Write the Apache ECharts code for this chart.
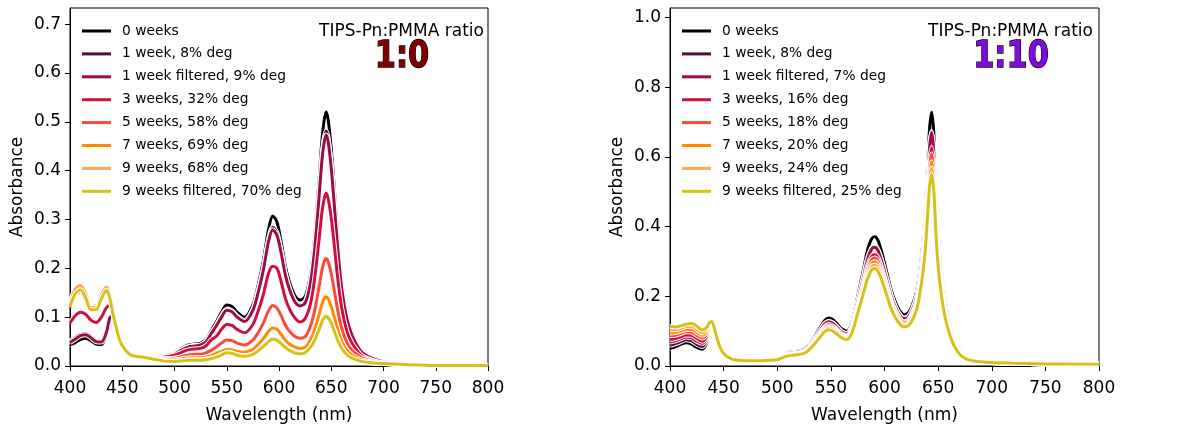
<!DOCTYPE html>
<html><head><meta charset="utf-8">
<script src="https://cdn.jsdelivr.net/npm/echarts@6/dist/echarts.min.js"></script>
<style>html,body{margin:0;padding:0;background:#fff}#c{width:1185px;height:430px}</style>
</head><body><div id="c"></div>
<script>
// ---------- data ----------
const namesL = ['0 weeks','1 week, 8% deg','1 week filtered, 9% deg','3 weeks, 32% deg','5 weeks, 58% deg','7 weeks, 69% deg','9 weeks, 68% deg','9 weeks filtered, 70% deg'];
const namesR = ['0 weeks','1 week, 8% deg','1 week filtered, 7% deg','3 weeks, 16% deg','5 weeks, 18% deg','7 weeks, 20% deg','9 weeks, 24% deg','9 weeks filtered, 25% deg'];
const colors = ['#000000','#520b3d','#9a0c4a','#cf0f3f','#fd4a38','#ff8a00','#fca855','#d5c118'];

const xTicks = [400,450,500,550,600,650,700,750,800];
const yTicksL = [0,0.1,0.2,0.3,0.4,0.5,0.6,0.7];
const yTicksR = [0,0.2,0.4,0.6,0.8,1.0];

const wavelengthsL = [400,405,410,415,420,425,430,435,438,441,444,447,450,455,460,
 470,480,490,500,505,510,515,520,525,530,
 535,540,545,550,555,560,567,575,580,585,
 590,594,598,602,606,610,615,620,625,630,
 634,638,641,643,645,647,650,653,656,660,
 665,670,675,680,690,700,720,750,800];

const L0 = [.043,.048,.054,.057,.052,.045,.044,.065,.095,.105,.082,.057,.042,.028,.022,
 .019,.018,.02,.026,.033,.04,.044,.045,.047,.054,
 .072,.09,.11,.125,.122,.11,.1,.125,.165,.215,
 .28,.307,.295,.255,.205,.172,.145,.135,.142,.185,
 .26,.37,.46,.5,.52,.505,.445,.36,.27,.175,
 .105,.068,.045,.03,.016,.009,.004,.002,.001];
const L1 = [.05,.058,.064,.066,.06,.051,.05,.072,.1,.107,.083,.057,.042,.028,.022,
 .018,.017,.019,.024,.031,.037,.041,.042,.043,.05,
 .067,.083,.102,.116,.113,.102,.093,.116,.153,.199,
 .259,.284,.273,.236,.19,.159,.134,.125,.131,.171,
 .241,.342,.426,.463,.481,.467,.412,.333,.25,.162,
 .097,.063,.042,.028,.015,.008,.004,.002,.001];
const L2 = [.048,.055,.062,.064,.058,.05,.049,.07,.098,.105,.082,.057,.042,.028,.022,
 .017,.016,.018,.024,.03,.036,.04,.041,.043,.049,
 .066,.082,.1,.114,.111,.1,.091,.114,.15,.196,
 .255,.279,.268,.232,.187,.157,.132,.123,.129,.168,
 .237,.337,.419,.455,.473,.46,.405,.328,.246,.159,
 .096,.062,.041,.027,.015,.008,.004,.002,.001];
const L3 = [.088,.103,.11,.106,.094,.089,.1,.12,.124,.108,.083,.057,.042,.028,.022,
 .017,.016,.018,.022,.026,.031,.034,.035,.036,.041,
 .053,.061,.075,.085,.083,.075,.068,.085,.112,.146,
 .19,.204,.2,.173,.139,.117,.099,.09,.097,.126,
 .177,.252,.313,.34,.354,.343,.303,.245,.184,.119,
 .071,.046,.031,.02,.011,.006,.003,.001,.001];
const L4 = [.12,.145,.152,.135,.115,.117,.135,.152,.14,.108,.082,.057,.042,.028,.022,
 .019,.017,.015,.016,.018,.021,.023,.024,.024,.027,
 .032,.039,.047,.053,.052,.047,.043,.053,.068,.088,
 .113,.124,.119,.103,.084,.071,.061,.057,.06,.081,
 .112,.158,.195,.212,.22,.214,.189,.153,.116,.077,
 .048,.032,.023,.016,.01,.006,.003,.001,.001];
const L5 = [.128,.155,.162,.145,.122,.123,.143,.16,.143,.109,.082,.057,.042,.028,.022,
 .019,.016,.013,.013,.014,.016,.017,.017,.017,.018,
 .021,.026,.03,.034,.033,.03,.028,.034,.044,.056,
 .071,.078,.075,.065,.053,.045,.039,.036,.038,.053,
 .073,.102,.126,.137,.142,.138,.122,.099,.076,.05,
 .032,.022,.016,.012,.008,.006,.003,.001,.001];
const L6 = [.13,.157,.165,.148,.12,.12,.146,.162,.145,.11,.082,.057,.042,.028,.022,
 .019,.015,.011,.01,.011,.012,.013,.013,.013,.014,
 .016,.019,.024,.028,.027,.023,.021,.025,.032,.041,
 .052,.057,.055,.048,.039,.033,.028,.026,.028,.039,
 .054,.075,.093,.1,.104,.101,.09,.073,.056,.037,
 .023,.016,.012,.009,.006,.005,.003,.001,.001];
const L7 = [.122,.148,.156,.14,.115,.115,.138,.155,.14,.108,.081,.056,.042,.028,.021,
 .018,.014,.01,.009,.01,.011,.012,.012,.012,.013,
 .015,.018,.023,.027,.026,.022,.02,.024,.031,.04,
 .05,.055,.053,.046,.038,.032,.027,.025,.027,.038,
 .052,.073,.09,.098,.102,.099,.088,.071,.054,.036,
 .023,.016,.012,.009,.006,.005,.003,.001,.001];

const wavelengthsR = [400,405,410,415,420,425,430,434,437,439,441,444,447,450,455,
 460,470,480,490,500,505,510,515,520,525,
 530,535,540,544,548,552,556,560,565,570,
 575,580,584,588,591,594,598,602,606,610,
 614,618,622,626,630,633,636,638,640,642,
 644,646,648,650,653,656,660,664,668,673,
 680,690,700,720,750,800];

const R0 = [.05,.055,.062,.067,.063,.053,.048,.065,.105,.124,.11,.075,.05,.036,.024,
 .018,.015,.015,.017,.024,.032,.039,.041,.043,.048,
 .062,.085,.11,.13,.138,.133,.12,.107,.1,.13,
 .2,.27,.33,.365,.371,.36,.32,.27,.22,.185,
 .16,.148,.152,.175,.215,.275,.36,.44,.56,.68,
 .728,.665,.5,.38,.27,.195,.13,.085,.055,.034,
 .021,.014,.011,.009,.007,.005];
const R1 = [.059,.064,.07,.075,.072,.062,.056,.072,.108,.125,.11,.075,.05,.036,.024,
 .018,.015,.015,.017,.022,.030,.036,.038,.040,.044,
 .057,.079,.102,.120,.128,.123,.111,.099,.093,.120,
 .185,.250,.305,.338,.343,.333,.296,.250,.204,.171,
 .148,.137,.141,.162,.199,.254,.333,.407,.518,.629,
 .673,.615,.463,.352,.250,.180,.120,.079,.051,.031,
 .020,.013,.011,.009,.007,.005];
const R2 = [.069,.072,.078,.083,.081,.071,.065,.079,.111,.125,.111,.076,.05,.036,.024,
 .018,.015,.015,.017,.022,.029,.036,.038,.040,.044,
 .057,.078,.101,.120,.127,.122,.110,.098,.092,.120,
 .184,.248,.304,.336,.341,.331,.294,.248,.202,.170,
 .147,.136,.140,.161,.198,.253,.331,.405,.515,.626,
 .670,.612,.460,.350,.248,.179,.120,.078,.051,.031,
 .019,.013,.011,.009,.007,.005];
const R3 = [.076,.079,.084,.089,.088,.079,.071,.084,.113,.126,.111,.076,.05,.036,.024,
 .018,.015,.015,.016,.021,.028,.034,.035,.037,.041,
 .053,.073,.095,.112,.119,.114,.103,.092,.086,.112,
 .172,.232,.284,.314,.319,.310,.275,.232,.189,.159,
 .138,.127,.131,.151,.185,.237,.310,.378,.482,.585,
 .626,.572,.430,.327,.232,.168,.112,.073,.047,.029,
 .018,.012,.010,.008,.006,.005];
const R4 = [.087,.088,.093,.098,.097,.088,.08,.091,.117,.126,.111,.076,.051,.036,.024,
 .018,.015,.015,.016,.020,.027,.033,.034,.036,.040,
 .052,.071,.092,.109,.115,.111,.100,.089,.084,.109,
 .167,.226,.276,.305,.310,.301,.267,.226,.184,.155,
 .134,.124,.127,.146,.180,.230,.301,.367,.468,.568,
 .608,.555,.418,.317,.226,.163,.109,.071,.046,.028,
 .018,.012,.010,.008,.006,.005];
const R5 = [.095,.096,.1,.105,.105,.097,.088,.097,.119,.127,.112,.077,.051,.036,.024,
 .018,.015,.015,.016,.019,.026,.031,.033,.035,.039,
 .050,.068,.089,.105,.111,.107,.097,.086,.081,.105,
 .161,.217,.266,.294,.299,.290,.258,.217,.177,.149,
 .129,.119,.122,.141,.173,.221,.290,.354,.451,.547,
 .586,.535,.403,.306,.217,.157,.105,.068,.044,.027,
 .017,.012,.010,.008,.006,.005];
const R6 = [.104,.104,.108,.113,.114,.105,.095,.104,.122,.127,.112,.077,.051,.036,.024,
 .018,.015,.015,.016,.019,.025,.030,.032,.034,.037,
 .048,.066,.086,.101,.108,.104,.094,.084,.078,.101,
 .156,.211,.257,.285,.289,.281,.250,.211,.172,.144,
 .125,.115,.119,.137,.168,.215,.281,.343,.437,.530,
 .568,.519,.390,.296,.211,.152,.101,.066,.043,.027,
 .016,.012,.010,.008,.006,.005];
const R7 = [.113,.112,.115,.12,.122,.114,.103,.11,.125,.128,.112,.077,.051,.036,.024,
 .018,.015,.015,.016,.018,.024,.029,.031,.033,.036,
 .047,.064,.083,.098,.104,.100,.091,.081,.076,.098,
 .151,.204,.249,.276,.280,.272,.242,.204,.166,.140,
 .121,.112,.115,.132,.162,.208,.272,.332,.423,.513,
 .550,.502,.378,.287,.204,.147,.098,.064,.042,.026,
 .016,.012,.010,.008,.006,.005];

const seriesL = [L0,L1,L2,L3,L4,L5,L6,L7];
const seriesR = [R0,R1,R2,R3,R4,R5,R6,R7];

// ---------- chart ----------
const FONT = 'DejaVu Sans';
const chart = echarts.init(document.getElementById('c'), null, {renderer:'canvas'});

function buildSeries(W, list, names, gi, tag){
  const out = [];
  list.forEach((vals, i) => {
    const data = W.map((w, k) => [w, vals[k]]);
    const base = {type:'line', xAxisIndex:gi, yAxisIndex:gi, data, showSymbol:false, symbol:'none',
      smooth:0.3, animation:false, silent:true, clip:true};
    out.push(Object.assign({}, base, {name:'_w'+tag+i, lineStyle:{color:'#ffffff', width:5}, itemStyle:{color:'#ffffff'}}));
    out.push(Object.assign({}, base, {name:names[i], lineStyle:{color:colors[i], width:3}, itemStyle:{color:colors[i]}}));
  });
  return out;
}

function xAxisCfg(gi){
  return {type:'value', gridIndex:gi, min:400, max:800, interval:50,
    axisLine:{show:true, onZero:false, lineStyle:{color:'#000', width:1}},
    axisTick:{show:true, length:5, lineStyle:{color:'#000', width:1}, customValues:xTicks},
    axisLabel:{fontSize:17, color:'#000', fontFamily:FONT, margin:14, customValues:xTicks},
    splitLine:{show:false},
    name:'Wavelength (nm)', nameLocation:'middle', nameGap:41,
    nameTextStyle:{fontSize:17, color:'#000', fontFamily:FONT}};
}
function yAxisCfg(gi, max, ticks){
  return {type:'value', gridIndex:gi, min:0, max:max,
    axisLine:{show:true, onZero:false, lineStyle:{color:'#000', width:1}},
    axisTick:{show:true, length:5, lineStyle:{color:'#000', width:1}, customValues:ticks},
    axisLabel:{fontSize:17, color:'#000', fontFamily:FONT, margin:9, customValues:ticks,
      formatter:v => Number(v).toFixed(1)},
    splitLine:{show:false},
    name:'Absorbance', nameLocation:'middle', nameGap:44,
    nameTextStyle:{fontSize:17, color:'#000', fontFamily:FONT}};
}
function legendCfg(left, names){
  return {data:names, orient:'vertical', left:left, top:23, padding:0,
    icon:'rect', itemWidth:29, itemHeight:3, itemGap:6.9, selectedMode:false,
    textStyle:{fontSize:13.8, fontFamily:FONT, color:'#000', lineHeight:16, padding:[0,0,0,6]}};
}

const option = {
  backgroundColor:'#fff',
  animation:false,
  grid:[
    {left:70, top:8, width:418, height:358, show:true, borderColor:'#000', borderWidth:1, backgroundColor:'transparent'},
    {left:670, top:8, width:429, height:358, show:true, borderColor:'#000', borderWidth:1, backgroundColor:'transparent'}
  ],
  xAxis:[xAxisCfg(0), xAxisCfg(1)],
  yAxis:[yAxisCfg(0, 0.733, yTicksL), yAxisCfg(1, 1.027, yTicksR)],
  legend:[legendCfg(82, namesL), legendCfg(682, namesR)],
  series:[].concat(buildSeries(wavelengthsL, seriesL, namesL, 0, 'L'), buildSeries(wavelengthsR, seriesR, namesR, 1, 'R')),
  graphic:[
    {type:'text', x:401.5, y:32, z:100, style:{text:'TIPS-Pn:PMMA ratio', fill:'#000', font:'17px "DejaVu Sans"', textAlign:'center', textVerticalAlign:'middle'}},
    {type:'text', x:402, y:57, z:100, scaleX:0.8, style:{text:'1:0', fill:'#800000', stroke:'#000', lineWidth:1.4, font:'bold 38px "DejaVu Sans"', textAlign:'center', textVerticalAlign:'middle'}},
    {type:'text', x:1010.5, y:32, z:100, style:{text:'TIPS-Pn:PMMA ratio', fill:'#000', font:'17px "DejaVu Sans"', textAlign:'center', textVerticalAlign:'middle'}},
    {type:'text', x:1011, y:57, z:100, scaleX:0.8, style:{text:'1:10', fill:'#800ae0', stroke:'#000', lineWidth:1.4, font:'bold 38px "DejaVu Sans"', textAlign:'center', textVerticalAlign:'middle'}}
  ]
};
chart.setOption(option);
</script>
</body></html>
